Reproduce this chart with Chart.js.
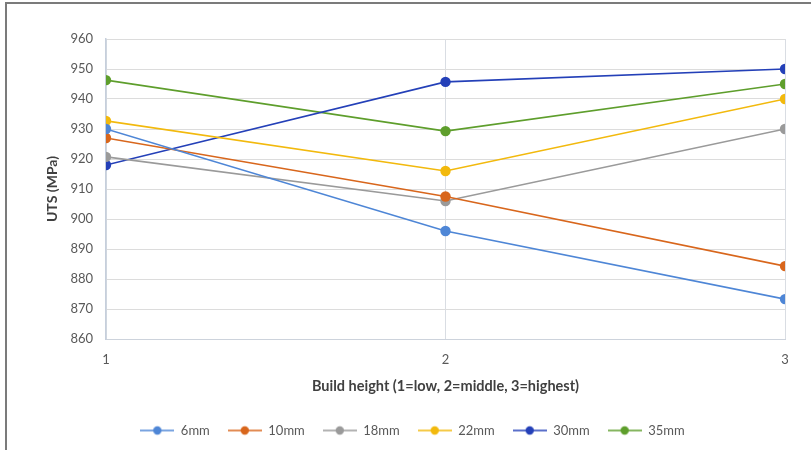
<!DOCTYPE html>
<html>
<head>
<meta charset="utf-8">
<script src="https://cdn.jsdelivr.net/npm/chart.js@4.4.1/dist/chart.umd.min.js"></script>
<style>
  html, body { margin: 0; padding: 0; background: #ffffff; }
  #wrap { position: relative; width: 811px; height: 450px; overflow: hidden; }
  #frame { position: absolute; left: 5px; top: 2px; width: 900px; height: 600px;
           border-top: 2px solid #7b7b7b; border-left: 2px solid #7b7b7b; pointer-events: none; }
  canvas { position: absolute; left: 0; top: 0; }
</style>
</head>
<body>
<div id="wrap">
  <canvas id="c" width="811" height="450"></canvas>
  <div id="frame"></div>
</div>
<script>
const buildHeights = [1, 2, 3];
const seriesNames = ['6mm', '10mm', '18mm', '22mm', '30mm', '35mm'];
const uts6mm  = [930.0, 896.0, 873.3];
const uts10mm = [927.0, 907.5, 884.3];
const uts18mm = [920.7, 906.0, 930.0];
const uts22mm = [932.7, 916.0, 940.0];
const uts30mm = [918.0, 945.7, 950.0];
const uts35mm = [946.3, 929.3, 945.0];
const seriesColors = ['#4e86d6', '#d8661c', '#9a9a9a', '#f2b90d', '#2440b8', '#5e9e2c'];
const yTicks = [860, 870, 880, 890, 900, 910, 920, 930, 940, 950, 960];

const allSeries = [uts6mm, uts10mm, uts18mm, uts22mm, uts30mm, uts35mm];

function legendMarker(color) {
  const cv = document.createElement('canvas');
  cv.width = 34; cv.height = 12;
  const g = cv.getContext('2d');
  g.strokeStyle = color; g.lineWidth = 1.6;
  g.beginPath(); g.moveTo(0, 6); g.lineTo(34, 6); g.stroke();
  g.fillStyle = color;
  g.beginPath(); g.arc(17, 6, 4.2, 0, Math.PI * 2); g.fill();
  return cv;
}

const datasets = seriesNames.map((name, i) => ({
  label: name,
  data: buildHeights.map((h, j) => ({ x: h, y: allSeries[i][j] })),
  borderColor: seriesColors[i],
  backgroundColor: seriesColors[i],
  pointBackgroundColor: seriesColors[i],
  pointBorderColor: seriesColors[i],
  borderWidth: 1.6,
  pointRadius: 5.2,
  pointBorderWidth: 0,
  tension: 0,
  fill: false,
  legendImg: legendMarker(seriesColors[i])
}));

const FONT = "Lato, 'Open Sans', sans-serif";
const TXT = '#595959';
const TITLE = '#404040';

new Chart(document.getElementById('c'), {
  type: 'line',
  data: { datasets },
  options: {
    responsive: false,
    animation: false,
    layout: { padding: { left: 40, right: 26, top: 39, bottom: 3 } },
    plugins: {
      tooltip: { enabled: false },
      legend: {
        position: 'bottom',
        labels: {
          usePointStyle: true,
          pointStyleWidth: 34,
          padding: 18,
          color: TXT,
          font: { family: FONT, size: 13 },
          generateLabels(chart) {
            return chart.data.datasets.map((ds, i) => ({
              text: ds.label,
              pointStyle: ds.legendImg,
              fillStyle: ds.borderColor,
              strokeStyle: ds.borderColor,
              fontColor: TXT,
              lineWidth: 0,
              hidden: false,
              datasetIndex: i
            }));
          }
        }
      }
    },
    scales: {
      x: {
        type: 'linear',
        min: 1, max: 3,
        afterBuildTicks(axis) { axis.ticks = buildHeights.map(v => ({ value: v })); },
        afterFit(axis) { axis.height = 67; },
        grid: { color: '#d9dde3', lineWidth: 1, drawTicks: false },
        border: { color: '#cdd3dc', width: 1 },
        ticks: { color: TXT, font: { family: FONT, size: 13 }, padding: 13 },
        title: { display: true, text: 'Build height (1=low, 2=middle, 3=highest)', color: TITLE,
                 font: { family: FONT, size: 14.5, weight: 'bold' }, padding: { top: 0, bottom: 11 } }
      },
      y: {
        min: 860, max: 960,
        afterBuildTicks(axis) { axis.ticks = yTicks.map(v => ({ value: v })); },
        afterFit(axis) { axis.width = 66; },
        grid: { color: '#dcdcdc', lineWidth: 1, drawTicks: false },
        border: { color: '#c6cfdc', width: 1.5 },
        ticks: { color: TXT, font: { family: FONT, size: 13 }, padding: 13 },
        title: { display: true, text: 'UTS (MPa)', color: TITLE,
                 font: { family: FONT, size: 14, weight: 'bold' }, padding: { bottom: 4 } }
      }
    }
  }
});
</script>
</body>
</html>
